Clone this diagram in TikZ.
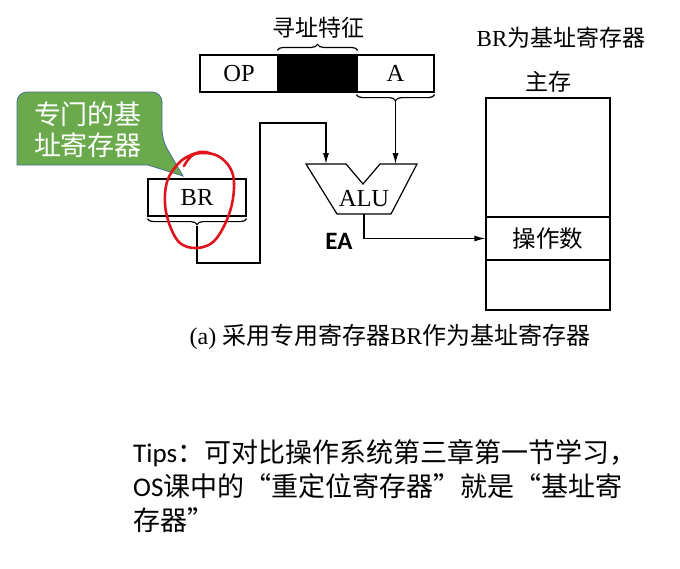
\documentclass[tikz,border=0pt]{standalone}
\usepackage{fontspec}
\usetikzlibrary{arrows.meta, decorations.pathreplacing}
\setmainfont{Liberation Serif}
\newfontfamily\cjk[RawFeature=+fwid]{Noto Sans CJK SC}
\newfontfamily\tipsfont{Carlito}
\newcommand{\zh}[1]{{\cjk #1}}
\definecolor{calloutgreen}{RGB}{106,170,76}
\definecolor{calloutedge}{RGB}{70,110,150}
\definecolor{inkred}{RGB}{225,20,30}
\tikzset{
  cell/.style={draw, line width=1.2pt, inner sep=0pt, minimum height=37pt, font=\fontsize{24.5}{28}\selectfont},
  arrow/.style={line width=1.2pt, -{Latex[length=11pt,width=6pt]}},
  wire/.style={line width=1.2pt},
  curly/.style={line width=1.2pt, decorate, decoration={brace, amplitude=6pt}},
  label/.style={inner sep=0pt, font=\fontsize{23}{27}\selectfont}
}
\begin{document}
\begin{tikzpicture}[x=1pt, y=-1pt]
\useasboundingbox (0,0) rectangle (680,568);
\node[cell, minimum width=78pt] (op) at (239,73.5) {OP};
\node[cell, minimum width=79pt, fill=black] (mode) at (317.5,73.5) {};
\node[cell, minimum width=77pt] (addr) at (395.5,73.5) {A};
\draw[curly] (mode.north west) ++(0,-4) -- ([yshift=4pt]mode.north east);
\node[label] (feat) at (318,28) {\zh{寻址特征}};
\draw[curly] (addr.south east) ++(0,2) -- ([yshift=-2pt]addr.south west);
\coordinate (atip) at (395.5,101);
\node[cell, minimum width=98pt] (br) at (197,197.5) {BR};
\draw[curly] (br.south east) ++(0,2) -- ([yshift=-2pt]br.south west);
\coordinate (brtip) at (197,226);
\draw[wire] (306,164) -- (346,164) -- (363,184) -- (380,164) -- (417,164) -- (391,214) -- (337,214) -- cycle;
\node[cell, draw=none] (alu) at (364,199) {ALU};
\coordinate (aluL) at (326,164);
\coordinate (aluR) at (395.5,164);
\coordinate (aluout) at (364,214);
\draw[arrow] (atip) -- (aluR);
\draw[arrow] (brtip) -- (197,263) -- (260,263) -- (260,123) -- (326,123) -- (aluL);
\node[cell, minimum width=124pt, minimum height=119pt] (memtop) at (548,157.5) {};
\node[cell, minimum width=124pt, minimum height=43pt, font=\fontsize{23.5}{27}\selectfont] (memmid) at (548,238.5) {\zh{操作数}};
\node[cell, minimum width=124pt, minimum height=50pt] (membot) at (548,285) {};
\node[label] (mem) at (548,82) {\zh{主存}};
\node[label] (title) at (561,38) {BR\zh{为基址寄存器}};
\draw[arrow] (aluout) |- (memmid.west);
\node[inner sep=0pt, font=\tipsfont\bfseries\fontsize{25}{29}\selectfont] (ea) at (339,241) {EA};
\draw[line width=0.8pt, draw=calloutedge, fill=calloutgreen] (17,128) [rounded corners=10pt] -- (17,92) -- (162,92) -- (162,140) [sharp corners] -- (183,176) -- (148,165) -- (17,165) [rounded corners=10pt] -- cycle;
\node[align=center, text=white, inner sep=0pt, font=\cjk\fontsize{27}{31}\selectfont] (note) at (88,130) {专门的基\\址寄存器};
\draw[inkred, line width=2.6pt, line cap=round] plot[smooth, tension=0.6] coordinates {(184,166) (195,154) (218,156) (233,175) (231,208) (216,239) (197,248) (178,241) (166,212) (167,182) (181,161) (200,152) (212,154)};
\node[inner sep=0pt, font=\fontsize{24}{28}\selectfont] (caption) at (390,337) {(a) \zh{采用专用寄存器}BR\zh{作为基址寄存器}};
\node[anchor=west, align=left, inner sep=0pt, font=\fontsize{27}{34}\selectfont] (tips) at (133,486) {{\tipsfont Tips}\zh{：可对比操作系统第三章第一节学习，}\\{\tipsfont OS}\zh{课中的“重定位寄存器”就是“基址寄}\\\zh{存器”}};
\end{tikzpicture}
\end{document}
